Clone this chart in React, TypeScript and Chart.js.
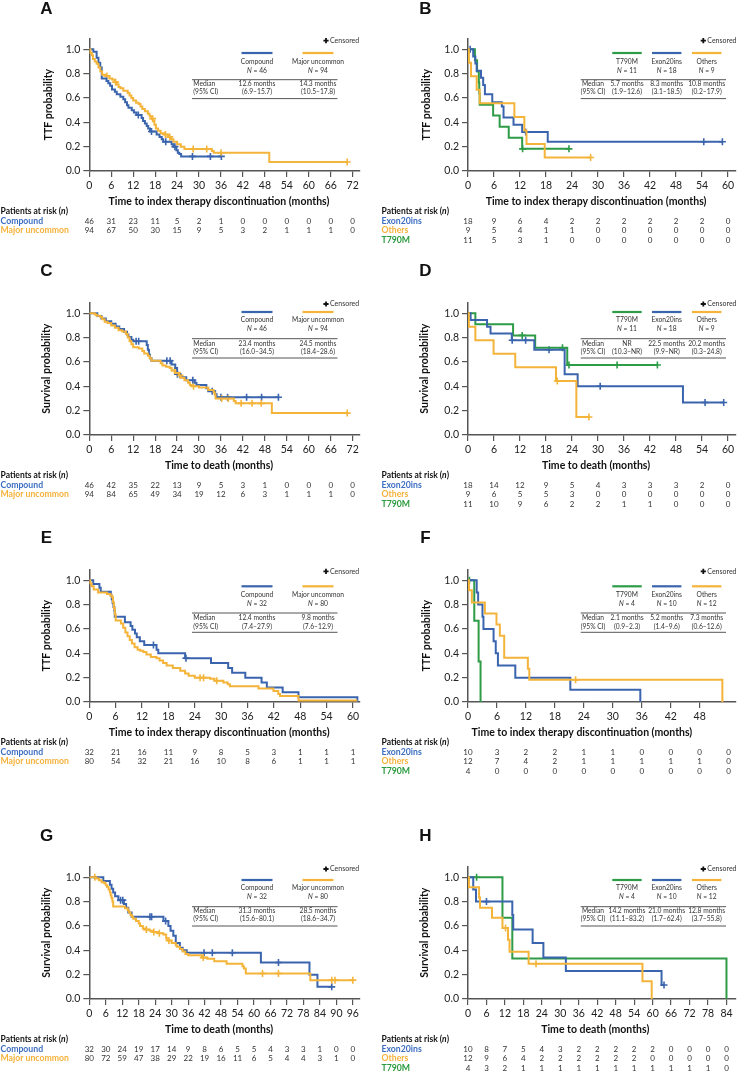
import { useEffect, useRef } from "react";
import { Chart, registerables } from "chart.js";

Chart.register(...registerables);

const FONT = "Lato, 'Open Sans', sans-serif";
const BLUE = "#3a64ad";
const ORANGE = "#f4b43a";
const GREEN = "#2e9b47";
const BLUE_TXT = "#3d6ec2";
const ORANGE_TXT = "#f5b23b";
const GREEN_TXT = "#2b9a3f";
const SMALL = 6.7;

// ---------- axis ticks ----------
const yTickValues = [0, 0.2, 0.4, 0.6, 0.8, 1.0];
const xTicks72 = [0, 6, 12, 18, 24, 30, 36, 42, 48, 54, 60, 66, 72];
const xTicks60 = [0, 6, 12, 18, 24, 30, 36, 42, 48, 54, 60];
const xTicks48 = [0, 6, 12, 18, 24, 30, 36, 42, 48];
const xTicks96 = [0, 6, 12, 18, 24, 30, 36, 42, 48, 54, 60, 66, 72, 78, 84, 90, 96];
const xTicks84 = [0, 6, 12, 18, 24, 30, 36, 42, 48, 54, 60, 66, 72, 78, 84];
const riskTimesF = [0, 6, 12, 18, 24, 30, 36, 42, 48, 54];

// ---------- Panel A: TTF, compound vs major uncommon ----------
const aCompT = [0, 1.1, 2.0, 2.5, 3.0, 3.4, 4.7, 5.2, 5.7, 6.2, 7.0, 7.5, 8.5, 9.3, 9.8, 10.3, 10.7, 11.6, 12.2, 12.9, 14.3, 14.7, 15.2, 15.7, 16.1, 16.6, 18.4, 19.2, 19.8, 20.2, 22.5, 23.0, 23.8, 24.2, 24.6, 25.1, 36.1];
const aCompS = [1, 0.98, 0.93, 0.89, 0.85, 0.76, 0.74, 0.72, 0.70, 0.67, 0.65, 0.63, 0.61, 0.59, 0.565, 0.54, 0.52, 0.50, 0.48, 0.46, 0.435, 0.41, 0.39, 0.37, 0.35, 0.325, 0.30, 0.28, 0.26, 0.24, 0.22, 0.20, 0.17, 0.15, 0.14, 0.12, 0.12];
const aCompC = [13.4, 17.0, 20.9, 23.4, 28.2, 33.1, 36.1];
const aMajT = [0, 0.3, 0.7, 1.0, 1.5, 2.0, 2.5, 3.0, 3.5, 4.5, 5.5, 6.3, 7.0, 7.5, 8.0, 8.5, 9.3, 10.5, 11.0, 11.5, 12.0, 12.8, 13.5, 14.0, 14.5, 15.2, 16.0, 16.5, 17.0, 17.5, 17.8, 18.2, 18.8, 19.5, 20.5, 21.5, 22.3, 23.0, 24.0, 25.0, 26.0, 33.5, 34.0, 49.2, 70.5];
const aMajS = [1, 0.97, 0.95, 0.92, 0.90, 0.88, 0.85, 0.82, 0.79, 0.78, 0.76, 0.75, 0.73, 0.71, 0.69, 0.68, 0.66, 0.64, 0.62, 0.60, 0.58, 0.56, 0.55, 0.53, 0.51, 0.49, 0.47, 0.45, 0.43, 0.41, 0.38, 0.35, 0.33, 0.31, 0.30, 0.28, 0.26, 0.24, 0.22, 0.20, 0.18, 0.165, 0.15, 0.074, 0.074];
const aMajC = [4.8, 7.2, 17.3, 20.8, 22.0, 28.4, 32.1, 36.0, 70.5];
const aN = [46, 94];
const aMedian = ["12.6 months", "14.3 months"];
const aCI = ["(6.9\u201315.7)", "(10.5\u201317.8)"];
const aRiskComp = [46, 31, 23, 11, 5, 2, 1, 0, 0, 0, 0, 0, 0];
const aRiskMaj = [94, 67, 50, 30, 15, 9, 5, 3, 2, 1, 1, 1, 0];

// ---------- Panel B: TTF, compound subgroups ----------
const bT790T = [0, 1.6, 2.1, 2.5, 2.6, 2.7, 5.8, 7.3, 9.4, 12.5, 23.3];
const bT790S = [1, 0.909, 0.818, 0.727, 0.636, 0.545, 0.455, 0.364, 0.273, 0.182, 0.182];
const bT790C = [12.6, 23.3];
const bExT = [0, 1.2, 1.7, 2.0, 3.0, 3.5, 3.9, 5.6, 7.8, 8.2, 10.5, 12.5, 18.4, 58.7];
const bExS = [1, 0.941, 0.882, 0.824, 0.765, 0.706, 0.63, 0.565, 0.53, 0.44, 0.38, 0.32, 0.24, 0.24];
const bExC = [0.5, 13.3, 54.4, 58.7];
const bOthT = [0, 0.2, 0.7, 2.0, 2.7, 10.7, 13.0, 13.5, 17.7, 28.3];
const bOthS = [1, 0.889, 0.778, 0.667, 0.556, 0.444, 0.333, 0.222, 0.111, 0.111];
const bOthC = [28.3];
const bN = [11, 18, 9];
const bMedian = ["5.7 months", "8.3 months", "10.8 months"];
const bCI = ["(1.9\u201312.6)", "(3.1\u201318.5)", "(0.2\u201317.9)"];
const bRiskEx = [18, 9, 6, 4, 2, 2, 2, 2, 2, 2, 0];
const bRiskOth = [9, 5, 4, 1, 1, 0, 0, 0, 0, 0, 0];
const bRiskT790 = [11, 5, 3, 1, 0, 0, 0, 0, 0, 0, 0];

// ---------- Panel C: OS, compound vs major uncommon ----------
const cCompT = [0, 2.2, 3.3, 4.5, 6.0, 7.2, 8.2, 9.5, 10.3, 10.7, 11.5, 12.0, 15.7, 16.0, 16.3, 16.6, 17.0, 22.5, 23.5, 24.0, 25.0, 26.5, 28.8, 29.3, 32.0, 32.5, 34.4, 34.8, 51.7];
const cCompS = [1, 0.978, 0.957, 0.935, 0.913, 0.891, 0.87, 0.848, 0.826, 0.804, 0.783, 0.77, 0.74, 0.70, 0.66, 0.63, 0.61, 0.58, 0.55, 0.50, 0.475, 0.45, 0.43, 0.41, 0.385, 0.36, 0.335, 0.31, 0.31];
const cCompC = [12.8, 13.5, 21.2, 22.1, 24.1, 28.3, 33.6, 36.0, 37.8, 43.0, 47.1, 51.7];
const cMajT = [0, 1.5, 2.0, 3.0, 3.5, 4.2, 5.0, 6.0, 7.0, 8.0, 9.0, 10.0, 10.5, 11.0, 11.5, 12.0, 13.5, 14.5, 15.0, 16.0, 16.5, 17.0, 19.5, 20.0, 21.0, 22.0, 22.5, 23.5, 24.5, 25.0, 26.0, 27.0, 27.5, 28.0, 30.0, 32.5, 34.0, 34.3, 34.5, 39.5, 40.0, 49.9, 70.5];
const cMajS = [1, 0.99, 0.98, 0.97, 0.95, 0.93, 0.92, 0.90, 0.88, 0.86, 0.85, 0.83, 0.80, 0.77, 0.745, 0.72, 0.71, 0.69, 0.67, 0.65, 0.63, 0.61, 0.59, 0.57, 0.56, 0.55, 0.53, 0.51, 0.49, 0.47, 0.45, 0.43, 0.41, 0.40, 0.39, 0.37, 0.35, 0.33, 0.30, 0.28, 0.26, 0.18, 0.18];
const cMajC = [23.3, 24.8, 28.5, 36.2, 38.0, 41.5, 44.5, 47.0, 70.5];
const cN = [46, 94];
const cMedian = ["23.4 months", "24.5 months"];
const cCI = ["(16.0\u201334.5)", "(18.4\u201328.6)"];
const cRiskComp = [46, 42, 35, 22, 13, 9, 5, 3, 1, 0, 0, 0, 0];
const cRiskMaj = [94, 84, 65, 49, 34, 19, 12, 6, 3, 1, 1, 1, 0];

// ---------- Panel D: OS, compound subgroups ----------
const dT790T = [0, 1.7, 10.4, 15.5, 22.9, 43.7];
const dT790S = [1, 0.909, 0.818, 0.716, 0.575, 0.575];
const dT790C = [12.5, 21.8, 23.3, 34.4, 43.7];
const dExT = [0, 0.6, 4.4, 5.2, 10.1, 15.3, 22.3, 25.3, 49.6, 59.0];
const dExS = [1, 0.944, 0.889, 0.833, 0.778, 0.70, 0.50, 0.40, 0.267, 0.267];
const dExC = [10.2, 13.3, 18.7, 30.5, 54.7, 59.0];
const dOthT = [0, 0.2, 1.7, 5.9, 10.9, 20.3, 25.0, 27.9];
const dOthS = [1, 0.889, 0.778, 0.667, 0.556, 0.444, 0.148, 0.148];
const dOthC = [20.6, 27.9];
const dN = [11, 18, 9];
const dMedian = ["NR", "22.5 months", "20.2 months"];
const dCI = ["(10.3\u2013NR)", "(9.9\u2013NR)", "(0.3\u201324.8)"];
const dRiskEx = [18, 14, 12, 9, 5, 4, 3, 3, 3, 2, 0];
const dRiskOth = [9, 6, 5, 5, 3, 0, 0, 0, 0, 0, 0];
const dRiskT790 = [11, 10, 9, 6, 2, 2, 1, 1, 0, 0, 0];

// ---------- Panel E: TTF (second cohort) ----------
const eCompT = [0, 0.9, 2.3, 2.6, 4.9, 5.1, 5.3, 5.5, 5.7, 5.8, 8.1, 9.4, 9.8, 10.4, 10.8, 11.5, 12.5, 15.3, 15.7, 21.8, 27.7, 31.6, 32.5, 35.5, 39.2, 40.4, 44.0, 47.6, 61.0];
const eCompS = [1, 0.969, 0.938, 0.906, 0.875, 0.844, 0.813, 0.781, 0.75, 0.70, 0.656, 0.625, 0.594, 0.563, 0.531, 0.50, 0.469, 0.43, 0.40, 0.36, 0.32, 0.28, 0.24, 0.20, 0.16, 0.12, 0.08, 0.04, 0.0];
const eCompC = [14.6, 22.0];
const eMajT = [0, 0.2, 0.5, 1.0, 2.0, 4.0, 4.8, 5.2, 5.4, 5.6, 5.8, 6.0, 7.2, 7.7, 8.2, 8.7, 9.2, 9.7, 10.3, 11.0, 11.6, 12.3, 13.0, 14.0, 15.3, 16.0, 16.8, 17.6, 19.0, 20.7, 21.8, 22.6, 24.0, 27.5, 28.5, 30.5, 31.5, 32.0, 38.5, 41.9, 43.0, 43.4, 47.6, 61.0];
const eMajS = [1, 0.975, 0.95, 0.925, 0.90, 0.888, 0.875, 0.86, 0.82, 0.77, 0.72, 0.67, 0.645, 0.61, 0.57, 0.54, 0.51, 0.48, 0.45, 0.43, 0.42, 0.41, 0.39, 0.37, 0.36, 0.34, 0.32, 0.30, 0.28, 0.256, 0.235, 0.215, 0.20, 0.19, 0.175, 0.16, 0.145, 0.13, 0.11, 0.09, 0.065, 0.05, 0.013, 0.013];
const eMajC = [25.2, 26.0, 29.0];
const eN = [32, 80];
const eMedian = ["12.4 months", "9.8 months"];
const eCI = ["(7.4\u201327.9)", "(7.6\u201312.9)"];
const eRiskComp = [32, 21, 16, 11, 9, 8, 5, 3, 1, 1, 1];
const eRiskMaj = [80, 54, 32, 21, 16, 10, 8, 6, 1, 1, 1];

// ---------- Panel F: TTF subgroups (second cohort) ----------
const fT790T = [0, 1.3, 2.2, 2.6];
const fT790S = [1, 0.667, 0.333, 0];
const fT790C = [0.3];
const fExT = [0, 1.8, 2.1, 3.0, 3.2, 5.3, 5.75, 6.2, 9.8, 21.2, 35.7];
const fExS = [1, 0.9, 0.8, 0.7, 0.6, 0.5, 0.4, 0.3, 0.2, 0.1, 0];
const fExC: number[] = [];
const fOthT = [0, 0.2, 0.8, 3.5, 5.9, 6.6, 7.5, 12.4, 12.7, 52.7];
const fOthS = [1, 0.917, 0.818, 0.727, 0.636, 0.545, 0.364, 0.273, 0.182, 0];
const fOthC = [22.3];
const fN = [4, 10, 12];
const fMedian = ["2.1 months", "5.2 months", "7.3 months"];
const fCI = ["(0.9\u20132.3)", "(1.4\u20139.6)", "(0.6\u201312.6)"];
const fRiskEx = [10, 3, 2, 2, 1, 1, 0, 0, 0, 0];
const fRiskOth = [12, 7, 4, 2, 1, 1, 1, 1, 1, 0];
const fRiskT790 = [4, 0, 0, 0, 0, 0, 0, 0, 0, 0];

// ---------- Panel G: OS (second cohort) ----------
const gCompT = [0, 5.1, 7.5, 8.1, 8.7, 9.4, 10.6, 12.6, 13.4, 14.2, 15.4, 27.0, 28.8, 29.6, 30.6, 31.5, 33.0, 34.0, 35.5, 62.5, 80.2, 83.1, 88.3];
const gCompS = [1, 0.969, 0.938, 0.906, 0.875, 0.844, 0.812, 0.78, 0.75, 0.71, 0.675, 0.64, 0.60, 0.56, 0.52, 0.46, 0.42, 0.40, 0.38, 0.30, 0.20, 0.10, 0.10];
const gCompC = [11.4, 12.2, 22.1, 22.7, 27.8, 41.8, 44.8, 52.1, 68.9, 88.3];
const gMajT = [0, 2.5, 3.5, 4.5, 5.5, 6.0, 6.5, 7.0, 7.5, 7.8, 8.1, 8.4, 8.7, 13.0, 14.0, 14.5, 15.0, 15.5, 16.0, 17.0, 18.0, 18.5, 19.5, 20.5, 22.0, 23.0, 25.0, 27.0, 28.0, 28.5, 30.0, 31.5, 32.0, 33.0, 34.0, 35.0, 36.0, 41.0, 43.0, 45.5, 50.0, 55.8, 56.3, 57.0, 80.5, 96.0];
const gMajS = [1, 0.99, 0.975, 0.96, 0.95, 0.935, 0.92, 0.90, 0.875, 0.85, 0.83, 0.80, 0.76, 0.745, 0.73, 0.71, 0.69, 0.675, 0.66, 0.64, 0.62, 0.60, 0.58, 0.57, 0.56, 0.55, 0.54, 0.53, 0.50, 0.48, 0.46, 0.44, 0.43, 0.41, 0.39, 0.37, 0.36, 0.34, 0.33, 0.31, 0.29, 0.27, 0.25, 0.21, 0.155, 0.155];
const gMajC = [2.0, 20.8, 23.5, 25.5, 29.0, 41.5, 63.1, 68.9, 88.3, 89.5, 96.0];
const gN = [32, 80];
const gMedian = ["31.3 months", "28.5 months"];
const gCI = ["(15.6\u201380.1)", "(18.6\u201334.7)"];
const gRiskComp = [32, 30, 24, 19, 17, 14, 9, 8, 6, 5, 5, 4, 3, 3, 1, 0, 0];
const gRiskMaj = [80, 72, 59, 47, 38, 29, 22, 19, 16, 11, 6, 5, 4, 4, 3, 1, 0];

// ---------- Panel H: OS subgroups (second cohort) ----------
const hT790T = [0, 11.2, 14.4, 84.0];
const hT790S = [1, 0.667, 0.333, 0];
const hT790C = [2.8];
const hExT = [0, 1.7, 2.6, 14.4, 14.7, 21.0, 24.5, 31.8, 62.9, 63.7];
const hExS = [1, 0.9, 0.8, 0.69, 0.57, 0.46, 0.34, 0.23, 0.115, 0.115];
const hExC = [6.0, 63.7];
const hOthT = [0, 0.3, 3.6, 3.9, 7.8, 11.2, 13.0, 13.5, 19.7, 56.7, 59.7];
const hOthS = [1, 0.917, 0.833, 0.75, 0.667, 0.583, 0.486, 0.389, 0.29, 0.146, 0];
const hOthC = [12.2, 22.1];
const hN = [4, 10, 12];
const hMedian = ["14.2 months", "21.0 months", "12.8 months"];
const hCI = ["(11.1\u201383.2)", "(1.7\u201362.4)", "(3.7\u201355.8)"];
const hRiskEx = [10, 8, 7, 5, 4, 3, 2, 2, 2, 2, 2, 0, 0, 0, 0];
const hRiskOth = [12, 9, 6, 4, 2, 2, 2, 2, 2, 2, 0, 0, 0, 0, 0];
const hRiskT790 = [4, 3, 2, 1, 1, 1, 1, 1, 1, 1, 1, 1, 1, 1, 0];

// ---------- structure ----------
type Series = { name: string; color: string; t: number[]; s: number[]; c: number[]; n: number; med: string; ci: string };
type RiskRow = { label: string; color: string; values: number[] };
type LY = { cens: number; line: number; name: number; n: number; top: number; med: number; ci: number; bot: number };
type Panel = {
  letter: string; left: number; top: number; width: number; height: number; side: "L" | "R";
  xMax: number; xTicks: number[]; riskTimes: number[]; yTitle: string; xTitle: string;
  series: Series[]; risk: RiskRow[]; ly: LY; letterY: number; yTitleX: number;
};

const TTF_X = "Time to index therapy discontinuation (months)";
const OS_X = "Time to death (months)";

const LY_1: LY = { cens: 40.7, line: 53, name: 62, n: 71, top: 79.7, med: 83.8, ci: 92.3, bot: 98.6 };
const LY_2: LY = { cens: 40, line: 48, name: 56.3, n: 65, top: 74.7, med: 79.7, ci: 88.3, bot: 94 };
const LY_3: LY = { cens: 40.3, line: 55.3, name: 63.7, n: 73, top: 82, med: 86.7, ci: 95.5, bot: 101.3 };
const LY_4: LY = { cens: 41, line: 52, name: 60.3, n: 69, top: 78.7, med: 83, ci: 91.3, bot: 98 };

function two(cT: number[], cS: number[], cC: number[], mT: number[], mS: number[], mC: number[], n: number[], med: string[], ci: string[]): Series[] {
  return [
    { name: "Compound", color: BLUE, t: cT, s: cS, c: cC, n: n[0], med: med[0], ci: ci[0] },
    { name: "Major uncommon", color: ORANGE, t: mT, s: mS, c: mC, n: n[1], med: med[1], ci: ci[1] },
  ];
}
function three(tT: number[], tS: number[], tC: number[], eT: number[], eS: number[], eC: number[], oT: number[], oS: number[], oC: number[], n: number[], med: string[], ci: string[]): Series[] {
  return [
    { name: "T790M", color: GREEN, t: tT, s: tS, c: tC, n: n[0], med: med[0], ci: ci[0] },
    { name: "Exon20ins", color: BLUE, t: eT, s: eS, c: eC, n: n[1], med: med[1], ci: ci[1] },
    { name: "Others", color: ORANGE, t: oT, s: oS, c: oC, n: n[2], med: med[2], ci: ci[2] },
  ];
}
const risk2 = (c: number[], m: number[]): RiskRow[] => [
  { label: "Compound", color: BLUE_TXT, values: c },
  { label: "Major uncommon", color: ORANGE_TXT, values: m },
];
const risk3 = (e: number[], o: number[], t: number[]): RiskRow[] => [
  { label: "Exon20ins", color: BLUE_TXT, values: e },
  { label: "Others", color: ORANGE_TXT, values: o },
  { label: "T790M", color: GREEN_TXT, values: t },
];

const panels: Panel[] = [
  { letter: "A", left: 0, top: 0, width: 370, height: 246, side: "L", xMax: 74, xTicks: xTicks72, riskTimes: xTicks72, yTitle: "TTF probability", xTitle: TTF_X,
    series: two(aCompT, aCompS, aCompC, aMajT, aMajS, aMajC, aN, aMedian, aCI), risk: risk2(aRiskComp, aRiskMaj), ly: LY_1, letterY: 9, yTitleX: 49 },
  { letter: "B", left: 370, top: 0, width: 371, height: 246, side: "R", xMax: 61.7, xTicks: xTicks60, riskTimes: xTicks60, yTitle: "TTF probability", xTitle: TTF_X,
    series: three(bT790T, bT790S, bT790C, bExT, bExS, bExC, bOthT, bOthS, bOthC, bN, bMedian, bCI), risk: risk3(bRiskEx, bRiskOth, bRiskT790), ly: LY_1, letterY: 9, yTitleX: 56.5 },
  { letter: "C", left: 0, top: 264, width: 370, height: 246, side: "L", xMax: 74, xTicks: xTicks72, riskTimes: xTicks72, yTitle: "Survival probability", xTitle: OS_X,
    series: two(cCompT, cCompS, cCompC, cMajT, cMajS, cMajC, cN, cMedian, cCI), risk: risk2(cRiskComp, cRiskMaj), ly: LY_2, letterY: 7, yTitleX: 47 },
  { letter: "D", left: 370, top: 264, width: 371, height: 246, side: "R", xMax: 61.7, xTicks: xTicks60, riskTimes: xTicks60, yTitle: "Survival probability", xTitle: OS_X,
    series: three(dT790T, dT790S, dT790C, dExT, dExS, dExC, dOthT, dOthS, dOthC, dN, dMedian, dCI), risk: risk3(dRiskEx, dRiskOth, dRiskT790), ly: LY_2, letterY: 7.5, yTitleX: 55 },
  { letter: "E", left: 0, top: 531, width: 370, height: 246, side: "L", xMax: 61.6, xTicks: xTicks60, riskTimes: xTicks60, yTitle: "TTF probability", xTitle: TTF_X,
    series: two(eCompT, eCompS, eCompC, eMajT, eMajS, eMajC, eN, eMedian, eCI), risk: risk2(eRiskComp, eRiskMaj), ly: LY_3, letterY: 7.5, yTitleX: 47 },
  { letter: "F", left: 370, top: 531, width: 371, height: 246, side: "R", xMax: 55.4, xTicks: xTicks48, riskTimes: riskTimesF, yTitle: "TTF probability", xTitle: TTF_X,
    series: three(fT790T, fT790S, fT790C, fExT, fExS, fExC, fOthT, fOthS, fOthC, fN, fMedian, fCI), risk: risk3(fRiskEx, fRiskOth, fRiskT790), ly: LY_3, letterY: 7.5, yTitleX: 56.5 },
  { letter: "G", left: 0, top: 828, width: 370, height: 244, side: "L", xMax: 98.6, xTicks: xTicks96, riskTimes: xTicks96, yTitle: "Survival probability", xTitle: OS_X,
    series: two(gCompT, gCompS, gCompC, gMajT, gMajS, gMajC, gN, gMedian, gCI), risk: risk2(gRiskComp, gRiskMaj), ly: LY_4, letterY: 8.7, yTitleX: 47 },
  { letter: "H", left: 370, top: 828, width: 371, height: 244, side: "R", xMax: 86.9, xTicks: xTicks84, riskTimes: xTicks84, yTitle: "Survival probability", xTitle: OS_X,
    series: three(hT790T, hT790S, hT790C, hExT, hExS, hExC, hOthT, hOthS, hOthC, hN, hMedian, hCI), risk: risk3(hRiskEx, hRiskOth, hRiskT790), ly: LY_4, letterY: 8.7, yTitleX: 55 },
];

const PLOT_TOP = 38.3;
const PLOT_BOTTOM = 171;
const X_AXIS_H = 20;
const Y_MAX = 1.09;

function stepAt(t: number[], s: number[], x: number): number {
  let v = s[0];
  for (let i = 0; i < t.length; i++) if (t[i] <= x) v = s[i];
  return v;
}

function drawParts(ctx: CanvasRenderingContext2D, parts: [string, string][], x: number, y: number, align: "left" | "center") {
  let total = 0;
  for (const [txt, f] of parts) { ctx.font = f; total += ctx.measureText(txt).width; }
  let cx = align === "center" ? x - total / 2 : x;
  ctx.textAlign = "left";
  for (const [txt, f] of parts) { ctx.font = f; ctx.fillText(txt, cx, y); cx += ctx.measureText(txt).width; }
}

function decorPlugin(p: Panel) {
  return {
    id: "decor" + p.letter,
    afterDraw(chart: any) {
      const ctx: CanvasRenderingContext2D = chart.ctx;
      const xs = chart.scales.x;
      const area = chart.chartArea;
      const isThree = p.series.length === 3;
      ctx.save();
      ctx.textBaseline = "middle";
      // panel letter
      ctx.fillStyle = "#111";
      ctx.textAlign = "center";
      ctx.font = "bold 17px 'Liberation Sans', Arial, sans-serif";
      ctx.fillText(p.letter, p.side === "L" ? 46.5 : 55.5, p.letterY);
      // y title
      ctx.save();
      ctx.translate(p.yTitleX, (area.top + area.bottom) / 2);
      ctx.rotate(-Math.PI / 2);
      ctx.font = `bold 10.5px ${FONT}`;
      ctx.textAlign = "center";
      ctx.fillText(p.yTitle, 0, 0);
      ctx.restore();
      // x title
      const xa = xs.getPixelForValue(p.xTicks[0]);
      const xb = xs.getPixelForValue(p.xTicks[p.xTicks.length - 1]);
      ctx.font = `bold 10.5px ${FONT}`;
      ctx.textAlign = "center";
      ctx.fillText(p.xTitle, (xa + xb) / 2 - 2, 202);

      // censored key
      const L = p.ly;
      const plusX = p.side === "L" ? 326 : 333.3;
      ctx.strokeStyle = "#111";
      ctx.lineWidth = 1.8;
      ctx.beginPath();
      ctx.moveTo(plusX - 2.6, L.cens); ctx.lineTo(plusX + 2.6, L.cens);
      ctx.moveTo(plusX, L.cens - 2.6); ctx.lineTo(plusX, L.cens + 2.6);
      ctx.stroke();
      ctx.fillStyle = "#333";
      ctx.font = `7px ${FONT}`;
      ctx.textAlign = "left";
      ctx.fillText("Censored", plusX + 4, L.cens);

      // series key + median table
      const centers = isThree ? [257, 296.7, 336.7] : [257, 318];
      const half = isThree ? 14.7 : 15.5;
      p.series.forEach((s, i) => {
        ctx.strokeStyle = s.color;
        ctx.lineWidth = 2.2;
        ctx.beginPath();
        ctx.moveTo(centers[i] - half, L.line);
        ctx.lineTo(centers[i] + half, L.line);
        ctx.stroke();
        ctx.fillStyle = "#333";
        ctx.font = `${SMALL}px ${FONT}`;
        ctx.textAlign = "center";
        ctx.fillText(s.name, centers[i], L.name);
        drawParts(ctx, [["N", `italic ${SMALL}px ${FONT}`], [" = " + s.n, `${SMALL}px ${FONT}`]], centers[i], L.n, "center");
        ctx.font = `${SMALL}px ${FONT}`;
        ctx.textAlign = "center";
        ctx.fillText(s.med, centers[i], L.med);
        ctx.fillText(s.ci, centers[i], L.ci);
      });
      const tx0 = isThree ? 210.7 : 192;
      const tx1 = isThree ? 356 : 337.5;
      ctx.strokeStyle = "#555";
      ctx.lineWidth = 1;
      ctx.beginPath();
      ctx.moveTo(tx0, L.top); ctx.lineTo(tx1, L.top);
      ctx.moveTo(tx0, L.bot); ctx.lineTo(tx1, L.bot);
      ctx.stroke();
      ctx.fillStyle = "#333";
      ctx.font = `${SMALL}px ${FONT}`;
      if (isThree) {
        ctx.textAlign = "center";
        ctx.fillText("Median", 223, L.med);
        ctx.fillText("(95% CI)", 223, L.ci);
      } else {
        ctx.textAlign = "left";
        ctx.fillText("Median", 193.3, L.med);
        ctx.fillText("(95% CI)", 193.3, L.ci);
      }

      // risk table
      const rx = p.side === "L" ? 0.5 : 11.5;
      ctx.fillStyle = "#111";
      drawParts(ctx, [["Patients at risk (", `bold 8.5px ${FONT}`], ["n", `bold italic 8.5px ${FONT}`], [")", `bold 8.5px ${FONT}`]], rx, 211, "left");
      p.risk.forEach((row, j) => {
        const y = 221 + j * 9.5;
        ctx.fillStyle = row.color;
        ctx.font = `bold 8.7px ${FONT}`;
        ctx.textAlign = "left";
        ctx.fillText(row.label, rx, y);
        ctx.fillStyle = "#333";
        ctx.font = `8px ${FONT}`;
        ctx.textAlign = "center";
        row.values.forEach((v, k) => {
          ctx.fillText(String(v), xs.getPixelForValue(p.riskTimes[k]), y);
        });
      });
      ctx.restore();
    },
  };
}

function KMPanel({ p }: { p: Panel }) {
  const ref = useRef<HTMLCanvasElement | null>(null);
  useEffect(() => {
    if (!ref.current) return;
    const plotLeft = p.side === "L" ? 89.3 : 98;
    const plotRight = p.side === "L" ? 360 : 368;
    const rank = (s: Series) => (s.color === ORANGE ? 0 : s.color === BLUE ? 1 : 2);
    const order = [...p.series].sort((a, b) => rank(a) - rank(b));
    const datasets: any[] = [];
    order.forEach((s) => {
      const n = Math.min(s.t.length, s.s.length);
      datasets.push({
        type: "line",
        data: s.t.slice(0, n).map((x, i) => ({ x, y: s.s[i] })),
        stepped: true,
        borderColor: s.color,
        borderWidth: 2,
        pointRadius: 0,
        fill: false,
        tension: 0,
      });
    });
    order.forEach((s) => {
      datasets.push({
        type: "scatter",
        data: s.c.map((x) => ({ x, y: stepAt(s.t, s.s, x) })),
        pointStyle: "cross",
        pointRadius: 3.5,
        borderColor: s.color,
        backgroundColor: s.color,
        borderWidth: 1.6,
        showLine: false,
      });
    });
    const axisColor = "#555";
    const chart = new Chart(ref.current, {
      type: "line",
      data: { datasets },
      plugins: [decorPlugin(p)],
      options: {
        responsive: false,
        animation: false,
        devicePixelRatio: 1,
        events: [],
        layout: {
          padding: { left: 0, top: PLOT_TOP, right: p.width - plotRight, bottom: p.height - PLOT_BOTTOM - X_AXIS_H },
        },
        plugins: { legend: { display: false }, tooltip: { enabled: false }, title: { display: false } },
        scales: {
          x: {
            type: "linear",
            bounds: "data",
            min: 0,
            max: p.xMax,
            afterBuildTicks: (s: any) => { s.ticks = p.xTicks.map((v) => ({ value: v })); },
            afterFit: (s: any) => { s.height = X_AXIS_H; },
            grid: { drawOnChartArea: false, drawTicks: true, tickLength: 6, color: axisColor, lineWidth: 1.2 },
            border: { display: true, color: axisColor, width: 1.5 },
            ticks: { font: { family: FONT, size: 10.5 }, color: "#222", padding: 2, maxRotation: 0, autoSkip: false },
          },
          y: {
            type: "linear",
            bounds: "data",
            min: 0,
            max: Y_MAX,
            afterBuildTicks: (s: any) => { s.ticks = yTickValues.map((v) => ({ value: v })); },
            afterFit: (s: any) => { s.width = plotLeft; },
            grid: { drawOnChartArea: false, drawTicks: true, tickLength: 6, color: axisColor, lineWidth: 1.2 },
            border: { display: true, color: axisColor, width: 1.5 },
            ticks: { font: { family: FONT, size: 10.5 }, color: "#222", padding: 3, callback: (v: any) => Number(v).toFixed(1) },
          },
        },
      } as any,
    });
    return () => chart.destroy();
  }, [p]);
  return (
    <canvas
      ref={ref}
      width={p.width}
      height={p.height}
      style={{ position: "absolute", left: p.left, top: p.top, width: p.width, height: p.height }}
    />
  );
}

export default function App() {
  return (
    <div style={{ position: "absolute", left: 0, top: 0, width: 741, height: 1072, background: "#fff", overflow: "hidden" }}>
      {panels.map((p) => (
        <KMPanel key={p.letter} p={p} />
      ))}
    </div>
  );
}
